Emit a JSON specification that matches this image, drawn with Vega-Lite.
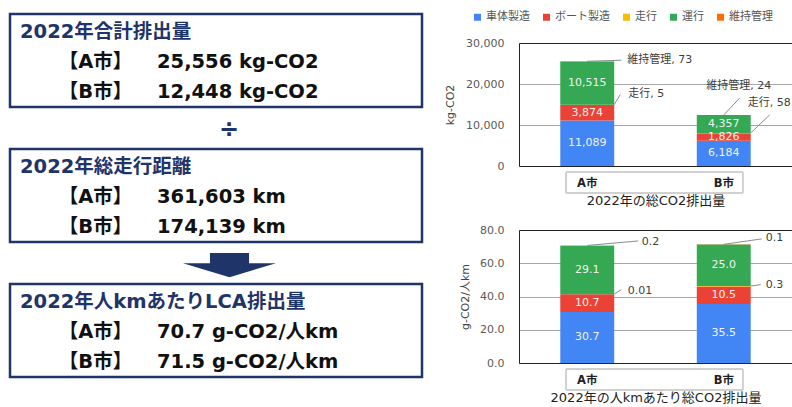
{
  "$schema": "https://vega.github.io/schema/vega-lite/v6.json",
  "padding": 0,
  "autosize": {"type": "pad"},
  "background": "#ffffff",
  "spacing": 12,
  "config": {
    "font": "DejaVu Sans, Noto Sans CJK JP",
    "view": {"stroke": null}
  },
  "datasets": {
    "summary": [
      {"kind": "frame", "row": 0, "last": 2},
      {"kind": "frame", "row": 4.5, "last": 6.5},
      {"kind": "frame", "row": 9, "last": 11},
      {"kind": "head", "col": "head", "row": 0, "text": "2022年合計排出量"},
      {"kind": "city", "col": "city", "row": 1, "text": "【A市】"},
      {"kind": "value", "col": "value", "row": 1, "text": "25,556 kg-CO2"},
      {"kind": "city", "col": "city", "row": 2, "text": "【B市】"},
      {"kind": "value", "col": "value", "row": 2, "text": "12,448 kg-CO2"},
      {"kind": "divide", "col": "op", "row": 3.27, "text": "÷"},
      {"kind": "head", "col": "head", "row": 4.5, "text": "2022年総走行距離"},
      {"kind": "city", "col": "city", "row": 5.5, "text": "【A市】"},
      {"kind": "value", "col": "value", "row": 5.5, "text": "361,603 km"},
      {"kind": "city", "col": "city", "row": 6.5, "text": "【B市】"},
      {"kind": "value", "col": "value", "row": 6.5, "text": "174,139 km"},
      {"kind": "arrow", "col": "op", "row": 7.77},
      {"kind": "head", "col": "head", "row": 9, "text": "2022年人kmあたりLCA排出量"},
      {"kind": "city", "col": "city", "row": 10, "text": "【A市】"},
      {"kind": "value", "col": "value", "row": 10, "text": "70.7 g-CO2/人km"},
      {"kind": "city", "col": "city", "row": 11, "text": "【B市】"},
      {"kind": "value", "col": "value", "row": 11, "text": "71.5 g-CO2/人km"}
    ],
    "total": [
      {"city": "A市", "category": "車体製造", "value": 11089},
      {"city": "A市", "category": "ボート製造", "value": 3874},
      {"city": "A市", "category": "走行", "value": 5},
      {"city": "A市", "category": "運行", "value": 10515},
      {"city": "A市", "category": "維持管理", "value": 73},
      {"city": "B市", "category": "車体製造", "value": 6184},
      {"city": "B市", "category": "ボート製造", "value": 1826},
      {"city": "B市", "category": "走行", "value": 58},
      {"city": "B市", "category": "運行", "value": 4357},
      {"city": "B市", "category": "維持管理", "value": 24}
    ],
    "perkm": [
      {"city": "A市", "category": "車体製造", "value": 30.7},
      {"city": "A市", "category": "ボート製造", "value": 10.7},
      {"city": "A市", "category": "走行", "value": 0.01},
      {"city": "A市", "category": "運行", "value": 29.1},
      {"city": "A市", "category": "維持管理", "value": 0.2},
      {"city": "B市", "category": "車体製造", "value": 35.5},
      {"city": "B市", "category": "ボート製造", "value": 10.5},
      {"city": "B市", "category": "走行", "value": 0.3},
      {"city": "B市", "category": "運行", "value": 25.0},
      {"city": "B市", "category": "維持管理", "value": 0.1}
    ]
  },
  "hconcat": [
    {
      "width": 432,
      "height": 364,
      "data": {"name": "summary"},
      "encoding": {
        "y": {"field": "row", "type": "quantitative", "scale": {"domain": [0.3667, 12.5], "reverse": true, "zero": false, "nice": false}, "axis": null}
      },
      "layer": [
        {
          "transform": [{"filter": "datum.kind == 'frame'"}],
          "mark": {"type": "rect", "fill": "#ffffff", "stroke": "#1f3468", "strokeWidth": 2.5, "xOffset": -10, "x2Offset": 196.5, "yOffset": -18, "y2Offset": 15},
          "encoding": {
            "x": {"datum": "head", "type": "nominal", "scale": {"type": "point", "domain": ["head", "city", "value", "op"], "range": [20, 225.5], "padding": 0}, "axis": null},
            "x2": {"datum": "op"},
            "y2": {"field": "last"}
          }
        },
        {
          "transform": [{"filter": "datum.kind == 'head'"}],
          "mark": {"type": "text", "align": "left", "baseline": "middle", "fontSize": 19.5, "fontWeight": "bold", "color": "#1f3468"},
          "encoding": {
            "x": {"field": "col", "type": "nominal", "scale": {"type": "point", "domain": ["head", "city", "value", "op"], "range": [20, 225.5], "padding": 0}, "axis": null},
            "text": {"field": "text"}
          }
        },
        {
          "transform": [{"filter": "datum.kind == 'city'"}],
          "mark": {"type": "text", "align": "center", "baseline": "middle", "dx": 7, "fontSize": 19.5, "fontWeight": "bold", "color": "#111111"},
          "encoding": {
            "x": {"field": "col", "type": "nominal", "scale": {"type": "point", "domain": ["head", "city", "value", "op"], "range": [20, 225.5], "padding": 0}, "axis": null},
            "text": {"field": "text"}
          }
        },
        {
          "transform": [{"filter": "datum.kind == 'value'"}],
          "mark": {"type": "text", "align": "left", "baseline": "middle", "fontSize": 19.5, "fontWeight": "bold", "color": "#111111"},
          "encoding": {
            "x": {"field": "col", "type": "nominal", "scale": {"type": "point", "domain": ["head", "city", "value", "op"], "range": [20, 225.5], "padding": 0}, "axis": null},
            "text": {"field": "text"}
          }
        },
        {
          "transform": [{"filter": "datum.kind == 'divide'"}],
          "mark": {"type": "text", "align": "center", "baseline": "middle", "dx": 3.5, "fontSize": 24, "fontWeight": "bold", "color": "#1f3468"},
          "encoding": {
            "x": {"field": "col", "type": "nominal", "scale": {"type": "point", "domain": ["head", "city", "value", "op"], "range": [20, 225.5], "padding": 0}, "axis": null},
            "text": {"field": "text"}
          }
        },
        {
          "transform": [{"filter": "datum.kind == 'arrow'"}],
          "mark": {"type": "point", "shape": "M-0.42,-0.26L0.42,-0.26L0.42,-0.04L1,-0.04L0,0.26L-1,-0.04L-0.42,-0.04Z", "size": 8649, "filled": true, "opacity": 1, "color": "#1f3468", "strokeWidth": 0, "xOffset": 4},
          "encoding": {
            "x": {"field": "col", "type": "nominal", "scale": {"type": "point", "domain": ["head", "city", "value", "op"], "range": [20, 225.5], "padding": 0}, "axis": null}
          }
        }
      ]
    },
    {
      "bounds": "flush",
      "spacing": 64,
      "resolve": {"scale": {"color": "independent"}, "legend": {"color": "independent"}},
      "vconcat": [
        {
          "width": 273,
          "height": 123,
          "data": {"name": "total"},
          "transform": [
            {"calculate": "indexof(['車体製造','ボート製造','走行','運行','維持管理'], datum.category)", "as": "k"},
            {"stack": "value", "groupby": ["city"], "sort": [{"field": "k", "order": "ascending"}], "as": ["lo", "hi"]},
            {"calculate": "(datum.lo + datum.hi) / 2", "as": "mid"},
            {"calculate": "datum.category + ', ' + format(datum.value, ',')", "as": "note"}
          ],
          "encoding": {
            "x": {
              "field": "city", "type": "nominal",
              "scale": {"paddingInner": 0.605, "paddingOuter": 0.3025},
              "axis": {"title": "2022年の総CO2排出量", "labelAngle": 0, "labelFontWeight": "bold", "labelFontSize": 11.5, "labelColor": "#222222", "labelPadding": 11, "ticks": false, "domainColor": "#222222", "titleFontSize": 13, "titleFontWeight": "normal", "titleColor": "#222222", "titlePadding": 6}
            },
            "y": {
              "field": "hi", "type": "quantitative",
              "scale": {"domain": [0, 30000], "nice": false},
              "axis": {"title": "kg-CO2", "values": [0, 10000, 20000, 30000], "format": ",.0f", "ticks": false, "labelPadding": 15, "labelFontSize": 11, "labelColor": "#595959", "domainColor": "#222222", "gridColor": {"condition": {"test": "datum.value == 30000", "value": "#222222"}, "value": "#a6a6a6"}, "titleFontSize": 11, "titleFontWeight": "normal", "titleColor": "#444444", "titlePadding": 10}
            }
          },
          "layer": [
            {
              "mark": {"type": "rect", "filled": false, "stroke": "#d0d0d0", "strokeWidth": 1, "xOffset": 6, "x2Offset": -8, "yOffset": 6, "y2Offset": 27},
              "encoding": {
                "x": {"datum": "A市", "type": "nominal", "bandPosition": 0},
                "x2": {"datum": "B市", "bandPosition": 1},
                "y": {"datum": 0, "type": "quantitative"},
                "y2": {"datum": 0}
              }
            },
            {
              "mark": {"type": "bar"},
              "encoding": {
                "y2": {"field": "lo"},
                "color": {
                  "field": "category", "type": "nominal",
                  "scale": {"domain": ["車体製造", "ボート製造", "走行", "運行", "維持管理"], "range": ["#4285f4", "#ea4335", "#fbbc04", "#34a853", "#ff6d01"]},
                  "legend": {"orient": "none", "legendX": -58.5, "legendY": -43, "direction": "horizontal", "title": null, "symbolType": "square", "symbolSize": 49, "symbolStrokeWidth": 0, "labelFontSize": 11, "labelColor": "#555555", "columnPadding": 11, "labelOffset": 3, "padding": 11.5}
                }
              }
            },
            {
              "transform": [{"filter": "datum.value >= 1000"}],
              "mark": {"type": "text", "color": "#f2f2f2", "fontSize": 11, "baseline": "middle"},
              "encoding": {
                "y": {"field": "mid", "type": "quantitative"},
                "text": {"field": "value", "type": "quantitative", "format": ","}
              }
            },
            {
              "transform": [{"filter": "datum.city == 'A市' && datum.category == '維持管理'"}],
              "layer": [
                {"mark": {"type": "rule", "color": "#8c8c8c", "x2Offset": 34, "y2Offset": -1}, "encoding": {"x": {"field": "city", "type": "nominal", "bandPosition": 0.5}, "x2": {"field": "city", "bandPosition": 0.5}, "y2": {"field": "hi"}}},
                {"mark": {"type": "text", "align": "left", "baseline": "middle", "dx": 40, "dy": -1, "fontSize": 11, "color": "#404040", "clip": true}, "encoding": {"text": {"field": "note"}}}
              ]
            },
            {
              "transform": [{"filter": "datum.city == 'A市' && datum.category == '走行'"}],
              "layer": [
                {"mark": {"type": "rule", "color": "#8c8c8c", "x2Offset": 6, "y2Offset": -10}, "encoding": {"x": {"field": "city", "type": "nominal", "bandPosition": 1}, "x2": {"field": "city", "bandPosition": 1}, "y2": {"field": "hi"}}},
                {"mark": {"type": "text", "align": "left", "baseline": "middle", "dx": 41, "dy": -10.5, "fontSize": 11, "color": "#404040", "clip": true}, "encoding": {"text": {"field": "note"}}}
              ]
            },
            {
              "transform": [{"filter": "datum.city == 'B市' && datum.category == '維持管理'"}],
              "layer": [
                {"mark": {"type": "rule", "color": "#8c8c8c", "x2Offset": 16, "y2Offset": -17}, "encoding": {"x": {"field": "city", "type": "nominal", "bandPosition": 0.5}, "x2": {"field": "city", "bandPosition": 0.5}, "y2": {"field": "hi"}}},
                {"mark": {"type": "text", "align": "center", "baseline": "middle", "dx": 15, "dy": -29, "fontSize": 11, "color": "#404040", "clip": true}, "encoding": {"text": {"field": "note"}}}
              ]
            },
            {
              "transform": [{"filter": "datum.city == 'B市' && datum.category == '走行'"}],
              "layer": [
                {"mark": {"type": "rule", "color": "#8c8c8c", "x2Offset": 19, "y2Offset": -18}, "encoding": {"x": {"field": "city", "type": "nominal", "bandPosition": 1}, "x2": {"field": "city", "bandPosition": 1}, "y2": {"field": "hi"}}},
                {"mark": {"type": "text", "align": "left", "baseline": "middle", "dx": 24, "dy": -30, "fontSize": 11, "color": "#404040", "clip": true}, "encoding": {"text": {"field": "note"}}}
              ]
            }
          ]
        },
        {
          "width": 273,
          "height": 133,
          "data": {"name": "perkm"},
          "transform": [
            {"calculate": "indexof(['車体製造','ボート製造','走行','運行','維持管理'], datum.category)", "as": "k"},
            {"stack": "value", "groupby": ["city"], "sort": [{"field": "k", "order": "ascending"}], "as": ["lo", "hi"]},
            {"calculate": "(datum.lo + datum.hi) / 2", "as": "mid"},
            {"calculate": "'' + datum.value", "as": "note"}
          ],
          "encoding": {
            "x": {
              "field": "city", "type": "nominal",
              "scale": {"paddingInner": 0.605, "paddingOuter": 0.3025},
              "axis": {"title": "2022年の人kmあたり総CO2排出量", "labelAngle": 0, "labelFontWeight": "bold", "labelFontSize": 11.5, "labelColor": "#222222", "labelPadding": 11, "ticks": false, "domainColor": "#222222", "titleFontSize": 13, "titleFontWeight": "normal", "titleColor": "#222222", "titlePadding": 6}
            },
            "y": {
              "field": "hi", "type": "quantitative",
              "scale": {"domain": [0, 80], "nice": false},
              "axis": {"title": "g-CO2/人km", "values": [0, 20, 40, 60, 80], "format": ".1f", "ticks": false, "labelPadding": 15, "labelFontSize": 11, "labelColor": "#595959", "domainColor": "#222222", "gridColor": {"condition": {"test": "datum.value == 80", "value": "#222222"}, "value": "#a6a6a6"}, "titleFontSize": 11, "titleFontWeight": "normal", "titleColor": "#444444", "titlePadding": 9}
            }
          },
          "layer": [
            {
              "mark": {"type": "rect", "filled": false, "stroke": "#d0d0d0", "strokeWidth": 1, "xOffset": 6, "x2Offset": -8, "yOffset": 6, "y2Offset": 27},
              "encoding": {
                "x": {"datum": "A市", "type": "nominal", "bandPosition": 0},
                "x2": {"datum": "B市", "bandPosition": 1},
                "y": {"datum": 0, "type": "quantitative"},
                "y2": {"datum": 0}
              }
            },
            {
              "mark": {"type": "bar"},
              "encoding": {
                "y2": {"field": "lo"},
                "color": {
                  "field": "category", "type": "nominal",
                  "scale": {"domain": ["車体製造", "ボート製造", "走行", "運行", "維持管理"], "range": ["#4285f4", "#ea4335", "#fbbc04", "#34a853", "#ff6d01"]},
                  "legend": null
                }
              }
            },
            {
              "transform": [{"filter": "datum.value >= 5"}],
              "mark": {"type": "text", "color": "#f2f2f2", "fontSize": 11, "baseline": "middle"},
              "encoding": {
                "y": {"field": "mid", "type": "quantitative"},
                "text": {"field": "value", "type": "quantitative", "format": ".1f"}
              }
            },
            {
              "transform": [{"filter": "datum.city == 'A市' && datum.category == '維持管理'"}],
              "layer": [
                {"mark": {"type": "rule", "color": "#8c8c8c", "x2Offset": 51, "y2Offset": -4.5}, "encoding": {"x": {"field": "city", "type": "nominal", "bandPosition": 0.5}, "x2": {"field": "city", "bandPosition": 0.5}, "y2": {"field": "hi"}}},
                {"mark": {"type": "text", "align": "left", "baseline": "middle", "dx": 54.5, "dy": -3.6, "fontSize": 11, "color": "#404040", "clip": true}, "encoding": {"text": {"field": "note"}}}
              ]
            },
            {
              "transform": [{"filter": "datum.city == 'A市' && datum.category == '走行'"}],
              "layer": [
                {"mark": {"type": "rule", "color": "#8c8c8c", "x2Offset": 7, "y2Offset": -4.5}, "encoding": {"x": {"field": "city", "type": "nominal", "bandPosition": 1}, "x2": {"field": "city", "bandPosition": 1}, "y2": {"field": "hi"}}},
                {"mark": {"type": "text", "align": "left", "baseline": "middle", "dx": 40.5, "dy": -3.6, "fontSize": 11, "color": "#404040", "clip": true}, "encoding": {"text": {"field": "note"}}}
              ]
            },
            {
              "transform": [{"filter": "datum.city == 'B市' && datum.category == '維持管理'"}],
              "layer": [
                {"mark": {"type": "rule", "color": "#8c8c8c", "x2Offset": 38, "y2Offset": -5.4}, "encoding": {"x": {"field": "city", "type": "nominal", "bandPosition": 0.5}, "x2": {"field": "city", "bandPosition": 0.5}, "y2": {"field": "hi"}}},
                {"mark": {"type": "text", "align": "left", "baseline": "middle", "dx": 42, "dy": -6.4, "fontSize": 11, "color": "#404040", "clip": true}, "encoding": {"text": {"field": "note"}}}
              ]
            },
            {
              "transform": [{"filter": "datum.city == 'B市' && datum.category == '走行'"}],
              "layer": [
                {"mark": {"type": "rule", "color": "#8c8c8c", "x2Offset": 10, "y2Offset": -1.4}, "encoding": {"x": {"field": "city", "type": "nominal", "bandPosition": 1}, "x2": {"field": "city", "bandPosition": 1}, "y2": {"field": "hi"}}},
                {"mark": {"type": "text", "align": "left", "baseline": "middle", "dx": 42, "dy": -1.4, "fontSize": 11, "color": "#404040", "clip": true}, "encoding": {"text": {"field": "note"}}}
              ]
            }
          ]
        }
      ]
    }
  ]
}
